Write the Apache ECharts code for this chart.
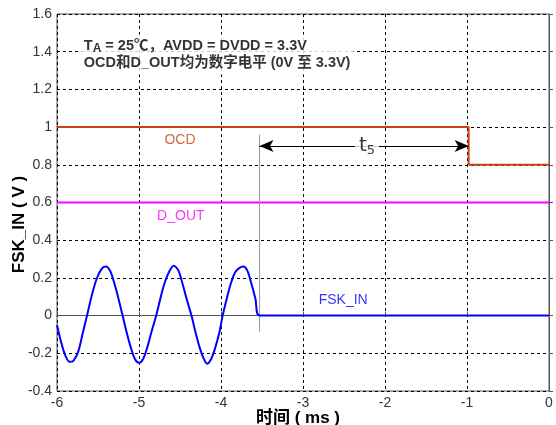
<!DOCTYPE html>
<html><head><meta charset="utf-8">
<script src="https://cdn.jsdelivr.net/npm/echarts@6/dist/echarts.min.js"></script>
<style>html,body{margin:0;padding:0;background:#fff}#c{width:556px;height:425px}</style>
</head><body><div id="c"></div>
<script>
// FSK_IN waveform: [time ms, volts]
const fskIn = [
  [-6.00,-0.05],[-5.95,-0.14],[-5.90,-0.21],[-5.845,-0.245],[-5.80,-0.24],[-5.74,-0.19],[-5.69,-0.10],
  [-5.634,0.00],[-5.58,0.10],[-5.52,0.19],[-5.46,0.245],[-5.406,0.26],[-5.35,0.235],[-5.30,0.17],
  [-5.25,0.09],[-5.20,0.00],[-5.15,-0.09],[-5.10,-0.17],[-5.05,-0.23],[-5.00,-0.25],[-4.95,-0.23],
  [-4.90,-0.17],[-4.85,-0.09],[-4.79,0.00],[-4.74,0.09],[-4.69,0.17],[-4.63,0.235],[-4.577,0.265],
  [-4.52,0.24],[-4.47,0.17],[-4.42,0.09],[-4.36,0.00],[-4.31,-0.09],[-4.26,-0.17],[-4.21,-0.23],
  [-4.17,-0.255],[-4.12,-0.23],[-4.07,-0.17],[-4.02,-0.09],[-3.98,0.00],[-3.93,0.09],[-3.88,0.17],
  [-3.82,0.235],[-3.73,0.26],[-3.68,0.24],[-3.63,0.17],[-3.58,0.09],[-3.53,0.00],[0,0.00]
];
const ocd = [[-6,1.0],[-0.98,1.0],[-0.98,0.8],[0,0.8]];
const dOut = [[-6,0.6],[0,0.6]];
const markerLine = [[-3.53,0.96],[-3.53,-0.085]];
const t5Arrow = [[-3.53,0.9],[-0.98,0.9]];
const t5LabelPos = [-2.22,0.9];
const xTicks = ['-6','-5','-4','-3','-2','-1','0'];
const yTicks = ['-0.4','-0.2','0','0.2','0.4','0.6','0.8','1','1.2','1.4','1.6'];
const seriesLabels = [
  {name:'OCD', pos:[-4.5,0.93], color:'#cc4018'},
  {name:'D_OUT', pos:[-4.49,0.525], color:'#ff00ff'},
  {name:'FSK_IN', pos:[-2.51,0.083], color:'#0000ff'}
];
const noteLines = ['{b|T}{s|A}{b| = 25℃，AVDD = DVDD = 3.3V}','{b|OCD和D_OUT均为数字电平 (0V 至 3.3V)}'];
const notePos = [-5.71,1.385];

const font = '"Liberation Sans", Arial, "Noto Sans CJK SC", sans-serif';
const chart = echarts.init(document.getElementById('c'), null, {renderer:'canvas'});
chart.setOption({
  animation:false,
  backgroundColor:'#fff',
  grid:{left:57,right:7,top:14,bottom:34,containLabel:false,outerBoundsMode:'none',
    show:true,borderColor:'#555',borderWidth:1},
  xAxis:{type:'value',min:-6,max:0,interval:1,
    name:'时间 ( ms )',nameLocation:'middle',nameGap:19,nameMoveOverlap:false,
    nameTextStyle:{fontFamily:font,fontSize:17,fontWeight:'bold',color:'#000',padding:[0,10,0,0]},
    axisLine:{lineStyle:{color:'#555'}},
    axisTick:{inside:true,length:4,lineStyle:{color:'#555'}},
    axisLabel:{fontFamily:font,fontSize:14,color:'#333',margin:5,
      formatter:v=>xTicks[Math.round(v+6)]},
    splitLine:{show:true,lineStyle:{color:'#000',type:[3,3],width:1}}},
  yAxis:{type:'value',min:-0.4,max:1.6,interval:0.2,
    name:'FSK_IN ( V )',nameLocation:'middle',nameGap:29,nameMoveOverlap:false,
    nameTextStyle:{fontFamily:font,fontSize:17,fontWeight:'bold',color:'#000',padding:[0,44,0,0]},
    axisLine:{lineStyle:{color:'#555'}},
    axisTick:{inside:true,length:4,lineStyle:{color:'#555'}},
    axisLabel:{fontFamily:font,fontSize:14,color:'#333',margin:5,
      formatter:v=>yTicks[Math.round((v+0.4)/0.2)]},
    splitLine:{show:true,lineStyle:{color:'#000',type:[3,3],width:1}}},
  series:[
    {type:'line',data:ocd,symbol:'none',lineStyle:{color:'#cc4018',width:2},z:3},
    {type:'line',data:dOut,symbol:'none',lineStyle:{color:'#ff00ff',width:2},z:3},
    {type:'line',data:markerLine,symbol:'none',lineStyle:{color:'#999',width:1},z:3},
    {type:'line',data:fskIn,symbol:'none',smooth:0.3,lineStyle:{color:'#0000ff',width:2},z:4},
    {type:'line',data:[],symbol:'none',
      markLine:{silent:true,symbol:['arrow','arrow'],symbolSize:[9,14],
        lineStyle:{color:'#000',width:1.2,type:'solid'},label:{show:false},
        data:[[{coord:t5Arrow[0]},{coord:t5Arrow[1]}]]}},
    {type:'scatter',symbolSize:0,z:10,
      data:[{value:t5LabelPos}],
      label:{show:true,position:'inside',formatter:'{t|t}{s|5}',
        backgroundColor:'#fff',padding:[0,4,0,4],
        rich:{t:{fontFamily:'"DejaVu Sans",sans-serif',fontSize:20,color:'#000',lineHeight:22,verticalAlign:'middle'},
              s:{fontFamily:'"DejaVu Sans",sans-serif',fontSize:13,color:'#000',lineHeight:6,verticalAlign:'bottom'}}}},
    {type:'scatter',symbolSize:0,z:10,
      data:seriesLabels.map(s=>({value:s.pos,name:s.name,
        label:{show:true,position:'inside',formatter:s.name,color:s.color,fontFamily:font,fontSize:14}}))},
    {type:'scatter',symbolSize:0,z:10,
      data:[{value:notePos}],
      label:{show:true,position:'right',distance:0,align:'left',verticalAlign:'middle',
        formatter:noteLines.join('\n'),backgroundColor:'#fff',padding:[3,3,3,3],
        rich:{b:{fontFamily:font,fontSize:14.5,fontWeight:'bold',color:'#000',lineHeight:17,verticalAlign:'middle'},
              s:{fontFamily:font,fontSize:12,fontWeight:'bold',color:'#000',lineHeight:7,verticalAlign:'bottom'}}}}
  ]
});
</script></body></html>
